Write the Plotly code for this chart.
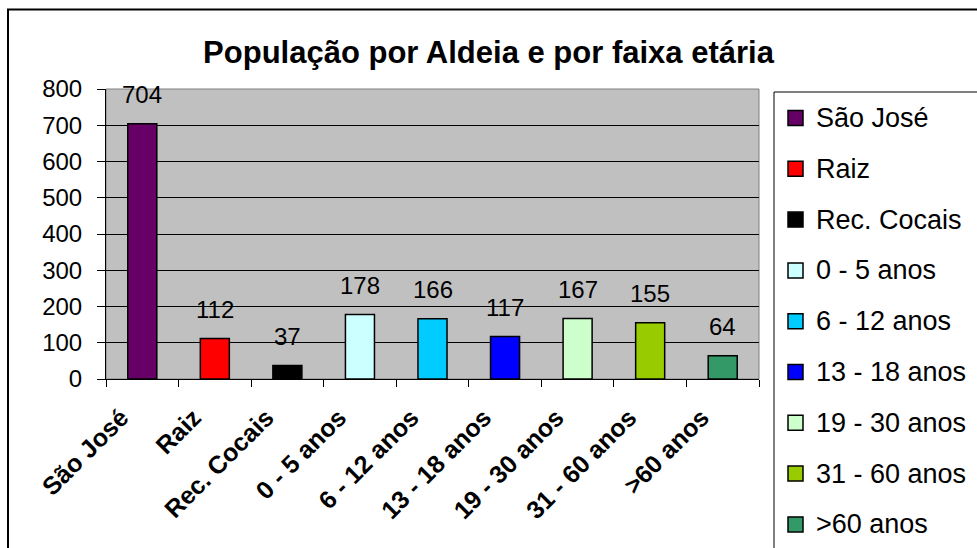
import plotly.graph_objects as go

categories = ["São José", "Raiz", "Rec. Cocais", "0 - 5 anos", "6 - 12 anos",
              "13 - 18 anos", "19 - 30 anos", "31 - 60 anos", ">60 anos"]
values = [704, 112, 37, 178, 166, 117, 167, 155, 64]
colors = ["#660066", "#FF0000", "#000000", "#CCFFFF", "#00CCFF",
          "#0000FF", "#CCFFCC", "#99CC00", "#339966"]
y_ticks = [0, 100, 200, 300, 400, 500, 600, 700, 800]

W, H = 977, 548
L, R, T, B = 106, 759, 89, 379
pw, ph = R - L, B - T

def px_x(p):
    return (p - L) / pw

def px_y(p):
    return (B - p) / ph

fig = go.Figure()
for i, (c, v, col) in enumerate(zip(categories, values, colors)):
    fig.add_trace(go.Bar(
        x=[c], y=[v], name=c, width=0.4, showlegend=False,
        marker=dict(color=col, line=dict(color="black", width=1.5)),
    ))
    fig.add_annotation(x=c, y=v, text=str(v), showarrow=False,
                       yshift=29, font=dict(family="Arial", size=24, color="black"))

# legend box (cut off by the right and bottom edges, as in the reference)
fig.add_shape(type="rect", xref="paper", yref="paper",
              x0=px_x(774), y0=px_y(570), x1=px_x(1000), y1=px_y(92),
              line=dict(color="black", width=1), fillcolor="white")
leg_top, leg_step = 118, 50.8
for i, (c, col) in enumerate(zip(categories, colors)):
    yc = leg_top + leg_step * i
    fig.add_shape(type="rect", xref="paper", yref="paper",
                  x0=px_x(788), x1=px_x(803), y0=px_y(yc + 7.5), y1=px_y(yc - 7.5),
                  line=dict(color="black", width=1.5), fillcolor=col)
    fig.add_annotation(xref="paper", yref="paper", x=px_x(814), y=px_y(yc),
                       xanchor="left", yanchor="middle", text=c, showarrow=False,
                       font=dict(family="Arial", size=27, color="black"))

fig.update_layout(
    width=W, height=H,
    margin=dict(l=L, r=W - R, t=T, b=H - B, pad=0),
    paper_bgcolor="white", plot_bgcolor="#C0C0C0",
    barmode="overlay", showlegend=False,
    font=dict(family="Arial", color="black"),
    title=dict(text="<b>População por Aldeia e por faixa etária</b>",
               x=0.5, xref="container", xanchor="center",
               y=1 - 52 / H, yanchor="middle",
               font=dict(family="Arial", size=31, color="black")),
)
fig.update_xaxes(
    categoryorder="array", categoryarray=categories,
    tickangle=-45, tickfont=dict(family="Arial", size=25, weight="bold", color="black"),
    ticks="outside", tickson="boundaries", ticklen=7, tickcolor="black",
    ticklabelstandoff=13, ticklabelshift=-21,
    showline=True, linecolor="black", linewidth=1, showgrid=False,
    range=[-0.5, len(categories) - 0.5], automargin=False,
)
fig.update_yaxes(
    range=[0, 800], tickvals=y_ticks,
    tickfont=dict(family="Arial", size=24, color="black"),
    ticks="outside", ticklen=8, tickcolor="black", ticklabelstandoff=10,
    showline=True, linecolor="black", linewidth=1, automargin=False,
    showgrid=True, gridcolor="black", gridwidth=1, zeroline=False,
)
# plot area border (gray)
fig.add_shape(type="rect", xref="paper", yref="paper", x0=0, y0=0, x1=1, y1=1,
              line=dict(color="#808080", width=1), layer="below")
# outer chart border
fig.add_shape(type="rect", xref="paper", yref="paper",
              x0=px_x(8), y0=px_y(560), x1=px_x(990), y1=px_y(9.5),
              line=dict(color="black", width=2), layer="below")

fig.write_html("out.html", config={"displayModeBar": False},
               post_script="document.body.style.margin='0';document.body.style.overflow='hidden';")
